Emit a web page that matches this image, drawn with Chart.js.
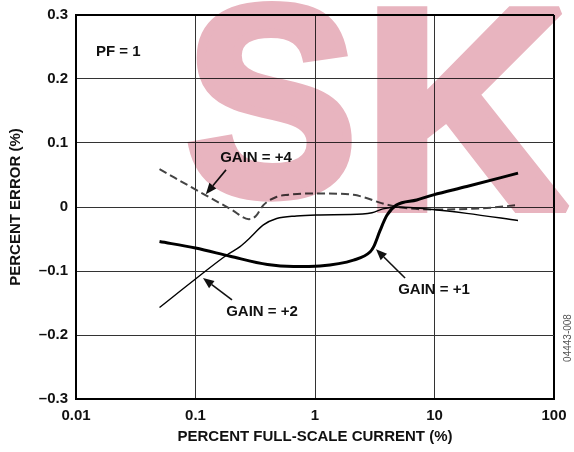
<!DOCTYPE html>
<html>
<head>
<meta charset="utf-8">
<script src="https://cdn.jsdelivr.net/npm/chart.js@4.4.1/dist/chart.umd.min.js"></script>
<style>
  html,body{margin:0;padding:0;background:#fff;}
  #wrap{width:574px;height:452px;position:relative;}
</style>
</head>
<body>
<div id="wrap"><canvas id="chart" width="574" height="452"></canvas></div>
<script>
// axis ticks
const xTicks = [0.01, 0.1, 1, 10, 100];
const xTickLabels = ['0.01', '0.1', '1', '10', '100'];
const yTicks = [-0.3, -0.2, -0.1, 0, 0.1, 0.2, 0.3];
const yTickLabels = ['–0.3', '–0.2', '–0.1', '0', '0.1', '0.2', '0.3'];

// GAIN = +1 (thick)
const g1X = [0.05, 0.1, 0.195, 0.4, 0.66, 1.1, 2.1, 2.9, 3.1, 3.5, 4.0, 4.8, 7.1, 9.8, 18.6, 50];
const g1Y = [-0.054, -0.064, -0.077, -0.09, -0.093, -0.092, -0.083, -0.07, -0.062, -0.037, -0.013, 0.003, 0.011, 0.019, 0.032, 0.053];
// GAIN = +2 (thin)
const g2X = [0.05, 0.1, 0.183, 0.236, 0.286, 0.37, 0.478, 0.7, 1.03, 2.5, 3.0, 3.7, 4.95, 9.7, 18.6, 50];
const g2Y = [-0.157, -0.1125, -0.075, -0.062, -0.048, -0.028, -0.018, -0.014, -0.0125, -0.011, -0.009, -0.003, 0, -0.004, -0.01, -0.021];
// GAIN = +4 (dashed)
const g4X = [0.05, 0.12, 0.2, 0.28, 0.32, 0.37, 0.48, 0.6, 0.85, 1.25, 2.1, 2.6, 3.6, 4.95, 9.7, 25, 50];
const g4Y = [0.059, 0.019, -0.004, -0.019, -0.014, 0.003, 0.016, 0.019, 0.021, 0.021, 0.019, 0.015, 0.006, 0, -0.004, -0.002, 0.003];

// labels + arrows, in data units
const notes = [
  {text: 'GAIN = +4', x: 0.321, y: 0.077, from: [0.18, 0.058], to: [0.122, 0.02]},
  {text: 'GAIN = +2', x: 0.36, y: -0.164, from: [0.202, -0.145], to: [0.1155, -0.111]},
  {text: 'GAIN = +1', x: 9.9, y: -0.13, from: [5.67, -0.111], to: [3.24, -0.066]}
];

const pts = (xs, ys) => xs.map((x, i) => ({x, y: ys[i]}));
const FONT = '"Liberation Sans", Arial, sans-serif';

function drawWatermark(ctx){
  // letters go on a separate layer first so fill+stroke don't double up
  const off = document.createElement('canvas');
  off.width = 574; off.height = 452;
  const o = off.getContext('2d');
  o.fillStyle = o.strokeStyle = '#e8b4bf';
  o.font = 'bold 260px ' + FONT;
  o.textBaseline = 'alphabetic'; o.textAlign = 'left';
  o.lineJoin = 'miter'; o.miterLimit = 1.5;
  const s = 9;
  // fit a glyph's ink box into a rectangle
  const letter = (ch, left, top, right, bottom) => {
    const m = o.measureText(ch);
    const bw = m.actualBoundingBoxLeft + m.actualBoundingBoxRight;
    const bh = m.actualBoundingBoxAscent + m.actualBoundingBoxDescent;
    const sx = (right - left - s) / bw, sy = (bottom - top - s) / bh;
    o.save();
    o.translate(left + s/2, bottom - s/2);
    o.scale(sx, sy);
    o.lineWidth = s / Math.min(sx, sy);
    o.fillText(ch, m.actualBoundingBoxLeft, -m.actualBoundingBoxDescent);
    o.strokeText(ch, m.actualBoundingBoxLeft, -m.actualBoundingBoxDescent);
    o.restore();
  };
  letter('S', 185, 0, 355, 203);
  letter('K', 376, 2, 572, 213);
  ctx.save();
  ctx.globalCompositeOperation = 'multiply';
  ctx.drawImage(off, 0, 0);
  ctx.restore();
}

const notesPlugin = {
  id: 'notes',
  afterDatasetsDraw(chart){
    const {ctx, scales:{x, y}} = chart;
    ctx.save();
    ctx.fillStyle = '#111'; ctx.strokeStyle = '#111';
    ctx.font = 'bold 15px ' + FONT;
    ctx.textBaseline = 'middle';
    ctx.textAlign = 'left';
    ctx.fillText('PF = 1', x.getPixelForValue(0.0147), y.getPixelForValue(0.242));
    ctx.textAlign = 'center';
    notes.forEach(n => {
      ctx.fillText(n.text, x.getPixelForValue(n.x), y.getPixelForValue(n.y));
      const x0 = x.getPixelForValue(n.from[0]), y0 = y.getPixelForValue(n.from[1]);
      const x1 = x.getPixelForValue(n.to[0]), y1 = y.getPixelForValue(n.to[1]);
      const a = Math.atan2(y1 - y0, x1 - x0), L = 11, W = 4.5;
      const bx = x1 - L*Math.cos(a), by = y1 - L*Math.sin(a);
      ctx.lineWidth = 1.6;
      ctx.beginPath(); ctx.moveTo(x0, y0); ctx.lineTo(bx, by); ctx.stroke();
      ctx.beginPath();
      ctx.moveTo(x1, y1);
      ctx.lineTo(bx + W*Math.sin(a), by - W*Math.cos(a));
      ctx.lineTo(bx - W*Math.sin(a), by + W*Math.cos(a));
      ctx.closePath(); ctx.fill();
    });
    // figure id
    ctx.fillStyle = '#555';
    ctx.font = '10px ' + FONT;
    ctx.translate(568, 338); ctx.rotate(-Math.PI/2);
    ctx.fillText('04443-008', 0, 0);
    ctx.restore();
  },
  afterDraw(chart){ drawWatermark(chart.ctx); }
};

const edgeW = c => (c.index === 0 || c.index === c.chart.scales[c.scale.id].ticks.length - 1) ? 2 : 1;
const edgeC = c => (c.index === 0 || c.index === c.chart.scales[c.scale.id].ticks.length - 1) ? '#000' : '#333';

new Chart(document.getElementById('chart'), {
  type: 'line',
  data: {
    datasets: [
      {label: 'GAIN = +1', data: pts(g1X, g1Y), borderColor: '#000', borderWidth: 3, pointRadius: 0, cubicInterpolationMode: 'monotone'},
      {label: 'GAIN = +2', data: pts(g2X, g2Y), borderColor: '#000', borderWidth: 1.4, pointRadius: 0, cubicInterpolationMode: 'monotone'},
      {label: 'GAIN = +4', data: pts(g4X, g4Y), borderColor: '#444', borderWidth: 2, borderDash: [8, 4], pointRadius: 0, cubicInterpolationMode: 'monotone'}
    ]
  },
  options: {
    responsive: false, animation: false,
    layout: {padding: {top: 15, right: 20, left: 0, bottom: 0}},
    plugins: {legend: {display: false}, tooltip: {enabled: false}},
    scales: {
      x: {
        type: 'logarithmic', min: 0.01, max: 100,
        afterBuildTicks: s => { s.ticks = xTicks.map(v => ({value: v})); },
        afterFit: s => { s.height = 53; s.paddingLeft = 0; s.paddingRight = 0; },
        ticks: {
          autoSkip: false, maxRotation: 0, padding: 8, color: '#111',
          font: {family: FONT, size: 15, weight: 'bold'},
          callback: (v) => xTickLabels[xTicks.indexOf(v)]
        },
        grid: {drawTicks: false, color: edgeC, lineWidth: edgeW},
        border: {display: true, color: '#000', width: 2},
        title: {display: true, text: 'PERCENT FULL-SCALE CURRENT (%)', color: '#111',
          font: {family: FONT, size: 15, weight: 'bold'}, padding: {top: 0, bottom: 6}}
      },
      y: {
        type: 'linear', min: -0.3, max: 0.3,
        afterBuildTicks: s => { s.ticks = yTicks.map(v => ({value: v})); },
        afterFit: s => { s.width = 76; s.paddingTop = 0; s.paddingBottom = 0; },
        ticks: {
          padding: 8, color: '#111',
          font: {family: FONT, size: 15, weight: 'bold'},
          callback: (v) => yTickLabels[yTicks.findIndex(t => Math.abs(t - v) < 1e-9)]
        },
        grid: {drawTicks: false, color: edgeC, lineWidth: edgeW},
        border: {display: true, color: '#000', width: 2},
        title: {display: true, text: 'PERCENT ERROR (%)', color: '#111',
          font: {family: FONT, size: 15, weight: 'bold'}, padding: {top: 6.5, bottom: 0}}
      }
    }
  },
  plugins: [notesPlugin]
});
</script>
</body>
</html>
